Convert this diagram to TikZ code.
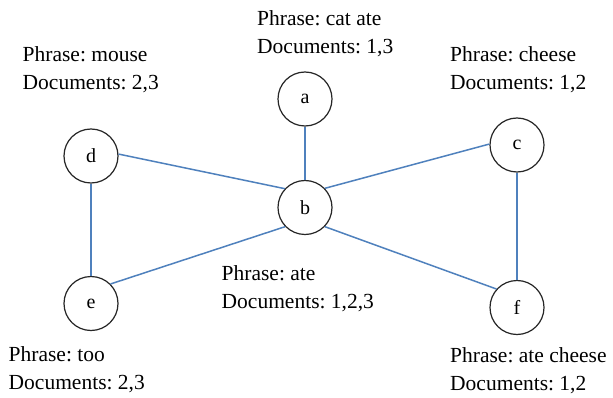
\documentclass[tikz,border=0pt]{standalone}
\usepackage{fontspec}
\setmainfont{Liberation Serif}
\frenchspacing
\begin{document}
\begin{tikzpicture}[x=1pt,y=-1pt,
  vert/.style={circle,draw=black!85,line width=1.2pt,minimum size=54pt,inner sep=0pt,font=\fontsize{20}{22}\selectfont},
  edge/.style={draw={rgb,255:red,79;green,129;blue,189},line width=1.5pt},
  lbl/.style={anchor=base west,inner sep=0pt,align=left,font=\fontsize{21.5}{28}\selectfont}]
\useasboundingbox[fill=white] (0,0) rectangle (613,398);
\node[vert] (a) at (305,99) {a};
\node[vert] (b) at (305,207.5) {b};
\node[vert] (c) at (517,145) {c};
\node[vert] (d) at (91,156) {d};
\node[vert] (e) at (91,303.5) {e};
\node[vert] (f) at (517,307.5) {f};
\draw[edge] (a) -- (b);
\draw[edge] (d) -- (e);
\draw[edge] (c) -- (f);
\draw[edge] (d.4) -- (b.137);
\draw[edge] (b.44) -- (c.178);
\draw[edge] (e.45) -- (b.224);
\draw[edge] (b.316) -- (f.138);
\node[lbl] (la) at (257,54) {Phrase: cat ate\\Documents: 1,3};
\node[lbl] (ld) at (22.5,90) {Phrase: mouse\\Documents: 2,3};
\node[lbl] (lc) at (450,90) {Phrase: cheese\\Documents: 1,2};
\node[lbl] (lb) at (221.5,308.5) {Phrase: ate\\Documents: 1,2,3};
\node[lbl] (le) at (8.5,389.5) {Phrase: too\\Documents: 2,3};
\node[lbl] (lf) at (450,390) {Phrase: ate cheese\\Documents: 1,2};
\end{tikzpicture}
\end{document}
